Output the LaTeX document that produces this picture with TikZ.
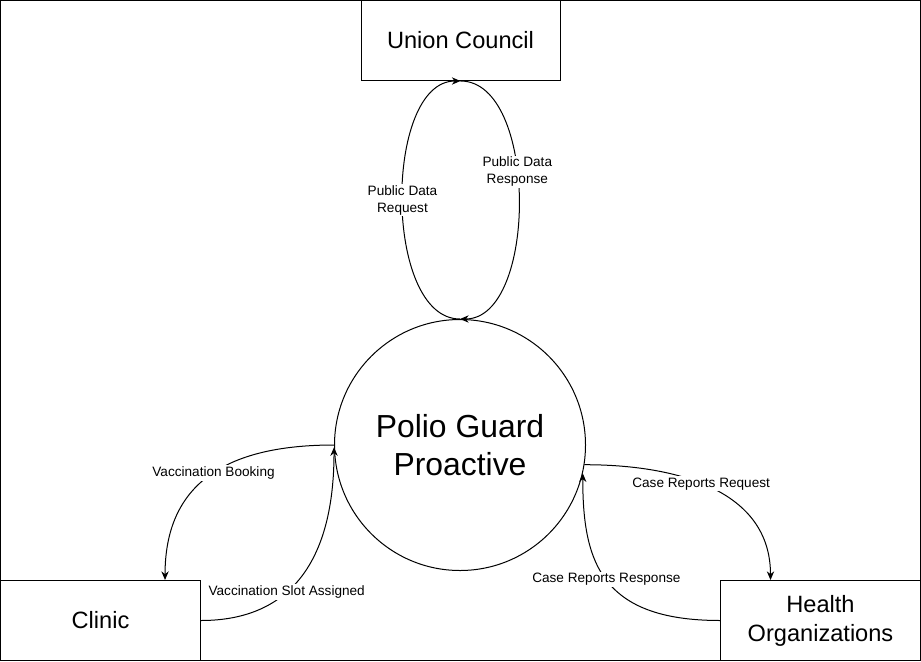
\documentclass[tikz,border=0pt]{standalone}
\usepackage{fontspec}
\setmainfont{Liberation Sans}
\usetikzlibrary{arrows.meta}

\begin{document}
\begin{tikzpicture}[x=0.75pt, y=-0.75pt, line width=0.75pt,
    entity/.style={draw, minimum height=60pt, inner sep=0pt, align=center, font=\fontsize{17.7}{21.75}\selectfont},
    process/.style={draw, circle, minimum size=188.25pt, inner sep=0pt, align=center, font=\fontsize{23.9}{29}\selectfont},
    flow/.style={-{Stealth[length=6.5pt, width=5.5pt]}},
    flowlabel/.style={fill=white, inner sep=1pt, align=center, font=\fontsize{10.2}{12.75}\selectfont}]
    \useasboundingbox (0, 0) rectangle (921, 661);

    % draw outer frame
    \draw (0.5, 0.5) rectangle (920.5, 660.5);

    % draw entities and the process
    \node[entity, minimum width=149.25pt] (uc) at (460.5, 40.5) {Union Council};
    \node[entity, minimum width=150pt] (cl) at (100.5, 620.5) {Clinic};
    \node[entity, minimum width=150pt] (ho) at (820.5, 620.5) {Health\\Organizations};
    \node[process] (pg) at (460, 445) {Polio Guard\\Proactive};

    % draw flows to and from union council
    \draw[flow] (pg.north) .. controls +(-77, 0) and +(-77, 0) .. (uc.south)
        node[flowlabel, pos=0.5] {Public Data\\Request};
    \draw[flow] (uc.south) .. controls +(78, 0) and +(78, 0) .. (pg.north)
        node[flowlabel, pos=0.42] {Public Data\\Response};

    % draw flows to and from clinic
    \draw[flow] (pg.west) .. controls +(-110, 0) and +(0, -95) .. ([xshift=48.4pt]cl.north)
        node[flowlabel, pos=0.47] {Vaccination Booking};
    \draw[flow] (cl.east) .. controls +(90, 0) and +(0, 113) .. (pg.-179)
        node[flowlabel, pos=0.4] {Vaccination Slot Assigned};

    % draw flows to and from health organizations
    \draw[flow] (pg.-9) .. controls +(92, 0) and +(0, -90) .. ([xshift=-37.5pt]ho.north)
        node[flowlabel, pos=0.45] {Case Reports Request};
    \draw[flow] (ho.west) .. controls +(-120, 0) and +(0, 87) .. (pg.-13)
        node[flowlabel, pos=0.5] {Case Reports Response};

\end{tikzpicture}
\end{document}
